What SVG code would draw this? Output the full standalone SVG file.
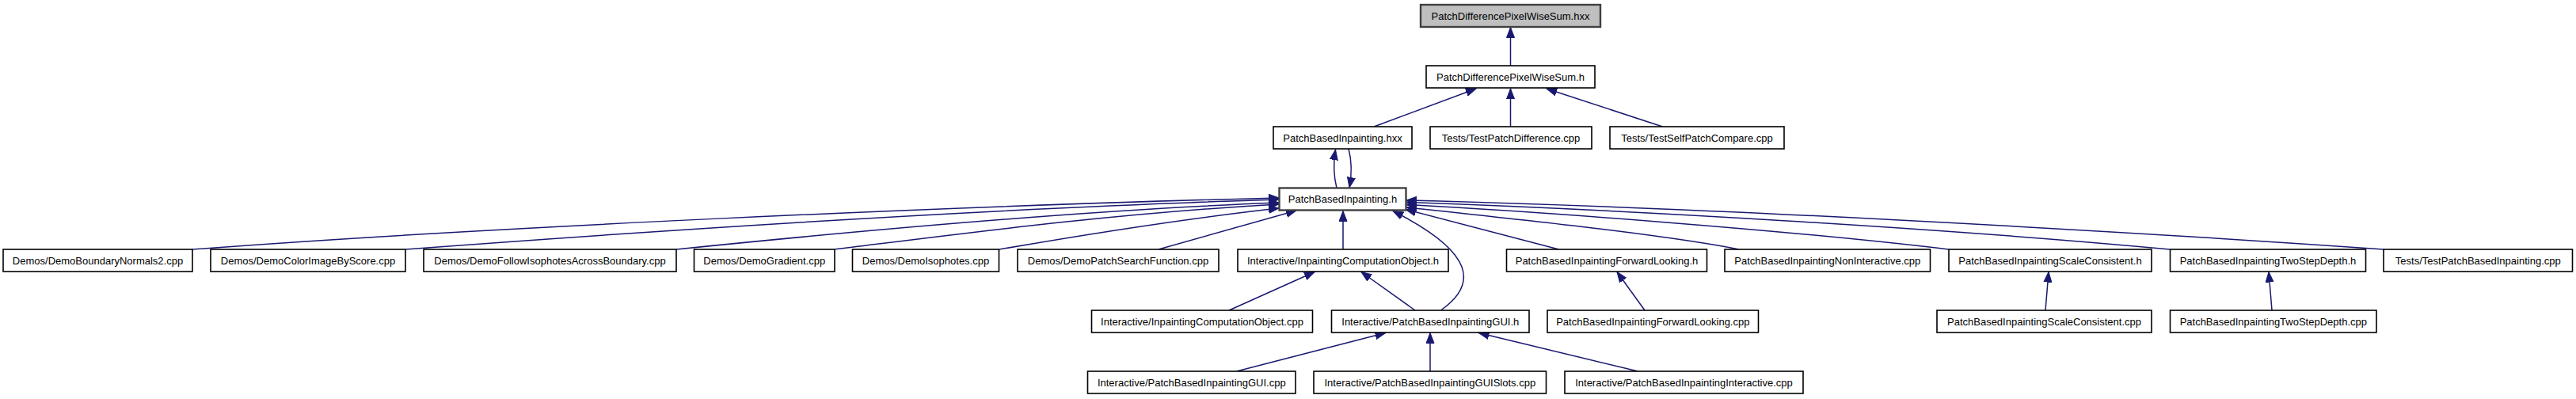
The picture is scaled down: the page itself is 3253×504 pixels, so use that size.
<svg xmlns="http://www.w3.org/2000/svg" width="3253" height="504" viewBox="0 0 3253 504">
<style>
.n rect{fill:#fff;stroke:#000;stroke-width:1.6}
.n.g rect{fill:#bfbfbf;stroke:#404040;stroke-width:2.4}
.n.d rect{stroke:#404040;stroke-width:2.4}
.n text{font-family:"Liberation Sans",Arial,sans-serif;font-size:13px;text-anchor:middle;fill:#000}
#edges path{fill:none;stroke:#191970;stroke-width:1.5;marker-end:url(#ah)}
</style>
<defs>
<marker id="ah" markerUnits="userSpaceOnUse" markerWidth="14" markerHeight="11" viewBox="0 0 14 11" refX="13" refY="5.5" orient="auto">
<path d="M0,0.5 L13,5.5 L0,10.5 z" fill="#191970" stroke="#191970" stroke-width="1"/>
</marker>
</defs>
<rect width="3253" height="504" fill="#fff"/>
<g id="edges">
<path d="M1907.5,83 L1907.5,34.5"/>
<path d="M1735,160 L1864,112"/>
<path d="M1907.5,160 L1907.5,112"/>
<path d="M2099.5,160 L1953,112"/>
<path d="M1688,237.5 C1684,222 1684,204 1686.5,189"/>
<path d="M1703,188 C1707,203 1707,221 1704,237"/>
<path d="M243,315 C600,288 1200,260 1615,250"/>
<path d="M512,315 C820,292 1250,263 1615,252"/>
<path d="M854,315 C1050,295 1350,266 1615,256"/>
<path d="M1054,315 C1200,297 1400,270 1615,258"/>
<path d="M1262,315 C1360,298 1480,278 1615,263"/>
<path d="M1463,315 L1637,266"/>
<path d="M1696,315 L1696,266.5"/>
<path d="M1819.5,392 C1865,360 1865,320 1759,266.5"/>
<path d="M1968.5,315 L1775,264.5"/>
<path d="M2196,315 C2100,296 1900,275 1776,262"/>
<path d="M2461,315 C2250,290 1950,268 1776,258.5"/>
<path d="M2740,315 C2450,288 2050,265 1776,255.5"/>
<path d="M3010,315 C2650,290 2150,262 1776,253"/>
<path d="M1552,392 L1660,343.5"/>
<path d="M1787,392 L1719,343.5"/>
<path d="M2077,392 L2042,343.5"/>
<path d="M2583,392 L2587,343.5"/>
<path d="M2869,392 L2865,343.5"/>
<path d="M1561.5,469 L1749.5,420.5"/>
<path d="M1806,469 L1806,420.5"/>
<path d="M2068.5,469 L1867.5,420.5"/>
</g>
<g id="n0" class="n g"><rect x="1794" y="6" width="227" height="28"/><text x="1907.5" y="24.5">PatchDifferencePixelWiseSum.hxx</text></g>
<g id="n1" class="n"><rect x="1801" y="83" width="213" height="28"/><text x="1907.5" y="101.5">PatchDifferencePixelWiseSum.h</text></g>
<g id="n2" class="n"><rect x="1608" y="160" width="175" height="28"/><text x="1695.5" y="178.5">PatchBasedInpainting.hxx</text></g>
<g id="n3" class="n"><rect x="1806" y="160" width="204" height="28"/><text x="1908" y="178.5">Tests/TestPatchDifference.cpp</text></g>
<g id="n4" class="n"><rect x="2033" y="160" width="220" height="28"/><text x="2143" y="178.5">Tests/TestSelfPatchCompare.cpp</text></g>
<g id="n5" class="n d"><rect x="1615.5" y="237.5" width="160" height="28"/><text x="1695.5" y="256">PatchBasedInpainting.h</text></g>
<g id="d1" class="n"><rect x="4" y="315" width="239" height="28"/><text x="123.5" y="333.5">Demos/DemoBoundaryNormals2.cpp</text></g>
<g id="d2" class="n"><rect x="266" y="315" width="246" height="28"/><text x="389" y="333.5">Demos/DemoColorImageByScore.cpp</text></g>
<g id="d3" class="n"><rect x="535" y="315" width="319" height="28"/><text x="694.5" y="333.5">Demos/DemoFollowIsophotesAcrossBoundary.cpp</text></g>
<g id="d4" class="n"><rect x="876.5" y="315" width="177.5" height="28"/><text x="965.3" y="333.5">Demos/DemoGradient.cpp</text></g>
<g id="d5" class="n"><rect x="1076.5" y="315" width="185" height="28"/><text x="1169" y="333.5">Demos/DemoIsophotes.cpp</text></g>
<g id="d6" class="n"><rect x="1285" y="315" width="254" height="28"/><text x="1412" y="333.5">Demos/DemoPatchSearchFunction.cpp</text></g>
<g id="i1" class="n"><rect x="1563" y="315" width="266" height="28"/><text x="1696" y="333.5">Interactive/InpaintingComputationObject.h</text></g>
<g id="f1" class="n"><rect x="1902.5" y="315" width="253" height="28"/><text x="2029" y="333.5">PatchBasedInpaintingForwardLooking.h</text></g>
<g id="ni" class="n"><rect x="2178" y="315" width="259.5" height="28"/><text x="2307.8" y="333.5">PatchBasedInpaintingNonInteractive.cpp</text></g>
<g id="sc" class="n"><rect x="2461" y="315" width="256" height="28"/><text x="2589" y="333.5">PatchBasedInpaintingScaleConsistent.h</text></g>
<g id="ts" class="n"><rect x="2740.5" y="315" width="247" height="28"/><text x="2864" y="333.5">PatchBasedInpaintingTwoStepDepth.h</text></g>
<g id="tp" class="n"><rect x="3010" y="315" width="238.5" height="28"/><text x="3129.3" y="333.5">Tests/TestPatchBasedInpainting.cpp</text></g>
<g id="icocpp" class="n"><rect x="1378.5" y="392" width="279" height="28"/><text x="1518" y="410.5">Interactive/InpaintingComputationObject.cpp</text></g>
<g id="guih" class="n"><rect x="1681.5" y="392" width="249.5" height="28"/><text x="1806.3" y="410.5">Interactive/PatchBasedInpaintingGUI.h</text></g>
<g id="flcpp" class="n"><rect x="1954" y="392" width="266.5" height="28"/><text x="2087.3" y="410.5">PatchBasedInpaintingForwardLooking.cpp</text></g>
<g id="sccpp" class="n"><rect x="2446" y="392" width="271" height="28"/><text x="2581.5" y="410.5">PatchBasedInpaintingScaleConsistent.cpp</text></g>
<g id="tscpp" class="n"><rect x="2740.5" y="392" width="260.5" height="28"/><text x="2870.8" y="410.5">PatchBasedInpaintingTwoStepDepth.cpp</text></g>
<g id="guicpp" class="n"><rect x="1373.5" y="469" width="262.5" height="28"/><text x="1504.8" y="487.5">Interactive/PatchBasedInpaintingGUI.cpp</text></g>
<g id="guislots" class="n"><rect x="1659" y="469" width="293.5" height="28"/><text x="1805.8" y="487.5">Interactive/PatchBasedInpaintingGUISlots.cpp</text></g>
<g id="interactive" class="n"><rect x="1976" y="469" width="301" height="28"/><text x="2126.5" y="487.5">Interactive/PatchBasedInpaintingInteractive.cpp</text></g>
</svg>
